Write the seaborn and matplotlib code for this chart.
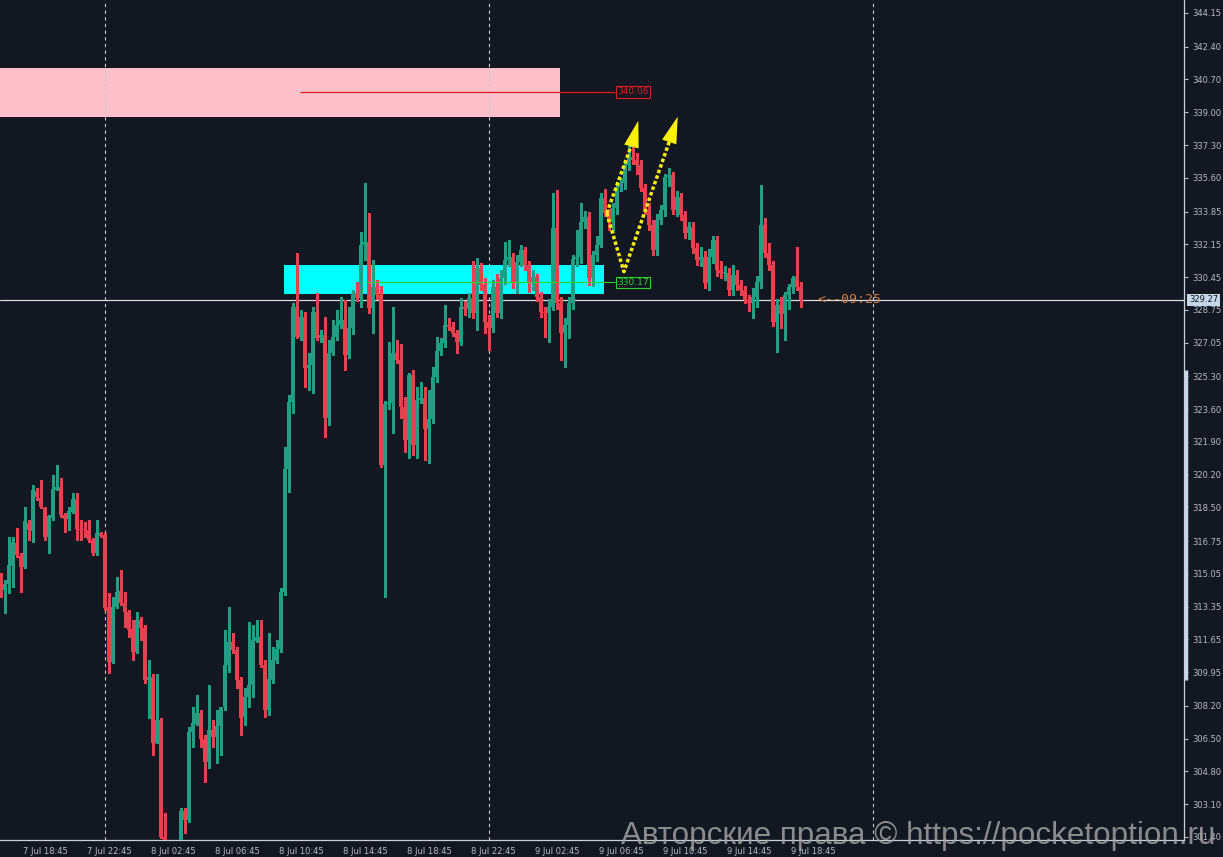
#!/usr/bin/env python3

import numpy as np
import pandas as pd
import seaborn as sns
import matplotlib.pyplot as plt
import matplotlib.transforms as mtransforms
from matplotlib.patches import Rectangle

# 15 minute candles, 7 Jul 17:30 -> 9 Jul 19:30
start = '2025-07-07 17:30'

opens = [
    314.56, 314.22, 314.53, 315.46, 316.64, 315.98, 315.43, 317.68, 317.30, 319.37,
    318.97, 318.45, 316.95, 317.94, 319.41, 319.54, 318.09, 317.88, 318.28, 318.92,
    317.40, 317.38, 317.33, 316.81, 316.12, 317.16, 317.07, 313.32, 310.50, 313.35,
    314.18, 313.53, 313.09, 312.18, 311.02, 312.66, 312.23, 309.55, 309.72, 306.30,
    307.47, 301.38, 301.10, 300.60, 300.90, 301.00, 302.77, 302.28, 306.86, 307.26,
    307.82, 306.47, 305.31, 306.95, 306.57, 307.16, 308.16, 310.32, 311.53, 311.10,
    309.55, 307.61, 308.68, 309.29, 311.59, 311.79, 310.32, 307.99, 309.55, 310.55,
    311.14, 314.13, 320.47, 323.99, 328.91, 327.36, 328.39, 325.71, 325.89, 328.65,
    327.27, 327.44, 323.12, 326.53, 327.36, 327.96, 328.22, 326.41, 327.79, 329.60,
    329.35, 332.11, 332.29, 328.83, 329.95, 329.52, 320.70, 323.86, 323.90, 326.49,
    326.15, 323.73, 322.00, 325.37, 321.74, 324.07, 324.16, 322.55, 323.07, 325.28,
    326.63, 327.01, 327.96, 327.88, 327.53, 327.10, 328.91, 328.78, 329.35, 328.57,
    330.90, 330.04, 328.14, 327.79, 329.95, 328.60, 330.38, 331.33, 331.47, 330.21,
    331.25, 331.85, 331.07, 330.12, 330.44, 329.43, 328.65, 328.60, 328.91, 332.98,
    329.09, 327.56, 327.96, 329.09, 331.37, 331.47, 333.32, 333.58, 330.38, 331.59,
    332.11, 334.53, 333.76, 333.32, 334.02, 335.14, 335.31, 336.26, 336.70, 336.52,
    336.26, 335.05, 333.93, 333.15, 331.85, 333.41, 333.93, 335.66, 335.74, 333.93,
    334.62, 333.67, 332.72, 333.06, 331.94, 331.33, 331.51, 330.12, 331.51, 332.37,
    330.82, 330.64, 330.68, 329.78, 330.56, 330.04, 329.78, 329.26, 329.09, 329.43,
    330.21, 333.15, 331.68, 331.08, 328.14, 329.00, 328.53, 329.52, 329.95, 330.47,
    329.95,
]
highs = [
    315.08, 314.74, 316.98, 316.98, 317.42, 316.12, 318.54, 317.85, 319.67, 319.49,
    319.92, 318.54, 318.11, 320.18, 320.70, 320.01, 318.20, 318.54, 319.23, 319.23,
    317.85, 317.76, 317.85, 316.90, 317.85, 317.24, 317.16, 314.04, 313.87, 314.91,
    315.26, 314.13, 313.18, 312.66, 313.09, 312.83, 312.40, 310.58, 309.86, 309.86,
    307.56, 302.63, 301.15, 301.10, 301.15, 302.89, 302.89, 307.12, 308.16, 308.77,
    307.99, 306.70, 309.29, 307.47, 307.99, 308.16, 312.14, 313.35, 311.97, 311.27,
    309.72, 309.11, 312.57, 312.40, 312.66, 312.66, 310.58, 311.97, 311.27, 311.62,
    314.30, 321.65, 324.33, 329.09, 331.68, 328.74, 328.65, 326.50, 328.91, 329.60,
    327.70, 328.39, 327.19, 328.22, 328.74, 329.43, 329.26, 328.91, 329.78, 330.20,
    332.80, 335.31, 333.76, 331.33, 330.30, 330.00, 324.00, 327.10, 328.91, 327.19,
    327.00, 324.24, 325.46, 325.63, 324.76, 325.00, 324.76, 324.59, 325.80, 327.36,
    327.30, 329.00, 328.30, 328.10, 327.70, 329.35, 329.20, 329.60, 331.30, 331.42,
    331.20, 330.40, 328.50, 330.30, 330.60, 330.80, 332.29, 332.37, 331.70, 331.60,
    332.11, 332.00, 331.30, 330.80, 330.60, 329.70, 328.90, 329.30, 334.79, 334.97,
    329.40, 328.30, 329.40, 331.60, 332.89, 334.27, 333.90, 333.80, 331.80, 332.60,
    334.80, 335.00, 334.00, 334.30, 335.40, 335.60, 336.40, 337.30, 337.30, 336.90,
    336.50, 335.30, 334.30, 333.40, 333.70, 334.20, 335.80, 336.11, 335.90, 334.90,
    334.80, 333.90, 333.30, 333.30, 332.20, 332.00, 331.80, 331.90, 332.60, 332.60,
    331.30, 331.00, 330.90, 331.10, 330.80, 330.30, 330.00, 329.50, 329.90, 330.50,
    335.23, 333.50, 332.20, 331.30, 329.30, 329.40, 329.70, 330.10, 330.50, 332.03,
    330.20,
]
lows = [
    313.87, 313.01, 314.04, 314.39, 315.95, 314.13, 315.34, 316.81, 316.73, 318.89,
    318.45, 316.81, 316.12, 317.85, 319.41, 318.02, 317.24, 317.33, 318.20, 316.81,
    316.81, 316.98, 316.73, 316.03, 316.03, 316.98, 313.18, 309.89, 310.41, 313.27,
    313.44, 312.32, 311.80, 310.58, 310.93, 311.62, 309.40, 307.56, 305.65, 306.26,
    301.33, 300.90, 300.40, 300.40, 300.70, 300.80, 301.59, 302.20, 306.09, 307.21,
    306.09, 304.27, 304.96, 306.09, 305.22, 305.65, 307.99, 309.98, 310.93, 309.11,
    306.70, 307.21, 308.16, 308.68, 311.53, 310.24, 307.64, 307.73, 309.37, 310.41,
    311.00, 313.96, 319.32, 323.38, 327.30, 327.20, 324.76, 324.60, 324.42, 327.18,
    327.10, 322.17, 322.78, 326.40, 327.20, 327.80, 325.63, 326.23, 327.50, 329.20,
    328.90, 331.33, 328.60, 327.53, 329.30, 320.61, 313.87, 323.60, 322.34, 326.00,
    323.12, 321.39, 321.05, 321.22, 321.05, 323.90, 320.96, 320.79, 322.90, 325.00,
    326.40, 326.80, 327.70, 327.40, 326.50, 326.90, 328.50, 328.40, 328.30, 327.70,
    329.80, 327.53, 326.66, 327.60, 328.40, 328.30, 330.10, 331.00, 329.90, 329.60,
    331.00, 330.80, 329.70, 329.80, 329.20, 328.39, 327.36, 327.10, 328.74, 328.80,
    326.15, 325.80, 327.30, 328.80, 331.00, 331.20, 333.00, 330.04, 330.00, 331.30,
    332.00, 333.60, 332.90, 332.80, 333.70, 334.90, 335.00, 336.00, 336.30, 335.80,
    334.90, 333.70, 332.90, 331.60, 331.60, 333.20, 333.60, 335.20, 333.70, 333.60,
    333.40, 332.50, 332.40, 331.70, 331.10, 331.00, 329.90, 329.80, 331.20, 330.50,
    330.40, 330.30, 329.50, 329.50, 329.80, 329.50, 329.10, 328.70, 328.30, 328.90,
    329.90, 331.50, 330.80, 327.90, 326.58, 327.80, 327.20, 328.80, 329.60, 329.80,
    328.90,
]
closes = [
    314.25, 314.53, 315.51, 316.73, 316.03, 315.39, 317.80, 317.33, 319.41, 319.03,
    318.51, 316.98, 318.06, 319.44, 319.58, 318.11, 317.88, 318.33, 318.92, 317.37,
    317.33, 317.33, 316.81, 316.12, 317.16, 317.02, 313.27, 310.50, 313.35, 314.13,
    313.53, 313.09, 312.14, 311.02, 312.66, 312.23, 309.55, 309.68, 306.30, 307.47,
    301.38, 301.10, 300.60, 300.90, 301.00, 302.77, 302.28, 306.86, 307.30, 307.85,
    306.47, 305.31, 306.95, 306.57, 307.16, 308.16, 310.32, 311.53, 311.10, 309.55,
    307.56, 308.68, 309.29, 311.62, 311.79, 310.32, 307.99, 309.58, 310.58, 311.14,
    314.13, 320.47, 323.99, 328.91, 327.36, 328.39, 325.71, 325.89, 328.65, 327.27,
    327.44, 323.12, 326.53, 327.36, 327.96, 328.22, 326.41, 327.79, 329.60, 329.35,
    332.11, 332.29, 328.83, 329.95, 329.52, 320.70, 323.86, 323.90, 326.49, 326.15,
    323.73, 322.00, 325.37, 321.74, 324.07, 324.16, 322.55, 323.07, 325.28, 326.63,
    327.01, 327.96, 327.88, 327.53, 327.10, 328.91, 328.78, 329.35, 328.57, 330.90,
    330.04, 328.14, 327.79, 329.95, 328.60, 330.38, 331.33, 331.47, 330.21, 331.25,
    331.85, 331.07, 330.12, 330.44, 329.43, 328.65, 328.60, 328.91, 332.98, 329.09,
    327.56, 327.96, 329.09, 331.37, 331.47, 333.32, 333.58, 330.38, 331.59, 332.11,
    334.53, 333.76, 333.32, 334.02, 335.14, 335.31, 336.26, 336.70, 336.52, 336.26,
    335.05, 333.93, 333.15, 331.85, 333.41, 333.93, 335.66, 335.74, 333.93, 334.62,
    333.67, 332.72, 333.06, 331.94, 331.33, 331.51, 330.12, 331.51, 332.37, 330.82,
    330.64, 330.68, 329.78, 330.56, 330.04, 329.78, 329.26, 329.09, 329.43, 330.21,
    333.15, 331.68, 331.08, 328.14, 329.00, 328.53, 329.52, 329.95, 330.38, 329.95,
    329.27,
]

price_ticks = [344.15, 342.40, 340.70, 339.00, 337.30, 335.60, 333.85, 332.15, 330.45,
               328.75, 327.05, 325.30, 323.60, 321.90, 320.20, 318.50, 316.75, 315.05,
               313.35, 311.65, 309.95, 308.20, 306.50, 304.80, 303.10, 301.40]

# zones and levels drawn by the user (x in candle index)
supply_zone = (338.75, 341.30)
supply_span = (-1.0, 139.8)
supply_level = 340.06
supply_line_span = (74.8, 153.6)
demand_zone = (329.57, 331.08)
demand_span = (70.8, 150.8)
demand_level = 330.17
demand_line_span = (91.0, 153.6)
last_price = 329.27
timer_text = '<--09:25'
scroll_range = (309.55, 325.63)

arrow_a = [(151.5, 333.76), (158.0, 337.47)]
arrow_a_tip = (159.4, 338.56)
arrow_b = [(151.5, 333.76), (155.8, 330.73), (167.3, 337.56)]
arrow_b_tip = (169.25, 338.77)

watermark = 'Авторские права © https://pocketoption.ru'

BG = '#131722'
TXT = '#b4bcc8'
UP = '#229e84'
DOWN = '#e8404e'
RED = '#e01c1c'
GREEN = '#2bd42b'

df = pd.DataFrame({'open': opens, 'high': highs, 'low': lows, 'close': closes},
                  index=pd.date_range(start, periods=len(opens), freq='15min'))
df['x'] = np.arange(len(df))
df['color'] = np.where(df['close'] >= df['open'], UP, DOWN)
t0 = df.index[0]


def idx(ts):
    return (pd.Timestamp(ts) - t0) / pd.Timedelta('15min')


sns.set_theme(style='dark', rc={'axes.facecolor': BG, 'figure.facecolor': BG})
plt.rcParams['font.family'] = ['DejaVu Sans']

fig = plt.figure(figsize=(12.23, 8.57), dpi=100)
ax = fig.add_axes([0, 17 / 857, 1184 / 1223, 840 / 857])
ax.set_facecolor(BG)

# zones
ax.add_patch(Rectangle((supply_span[0], supply_zone[0]), supply_span[1] - supply_span[0],
                       supply_zone[1] - supply_zone[0], fc='#ffc0cb', ec='none', zorder=1))
ax.add_patch(Rectangle((demand_span[0], demand_zone[0]), demand_span[1] - demand_span[0],
                       demand_zone[1] - demand_zone[0], fc='#00ffff', ec='none', zorder=1))

# day separators
for d in ['2025-07-08', '2025-07-09', '2025-07-10']:
    ax.axvline(idx(d), color='#c8c8c8', lw=0.8, ls=(0, (3, 3)), zorder=1)

# price line
ax.axhline(last_price, color='#dcdcdc', lw=0.9, zorder=2)

# candles
ax.vlines(df['x'], df['low'], df['high'], colors=df['color'], lw=0.75, zorder=3,
          antialiased=False)
body = (df['close'] - df['open']).abs().clip(lower=0.05)
ax.bar(df['x'], body, bottom=df[['open', 'close']].min(axis=1), width=0.85,
       color=df['color'], lw=0, zorder=4, antialiased=False)

# levels with labels
ax.hlines(supply_level, *supply_line_span, color=RED, lw=0.9, zorder=5)
ax.text(supply_line_span[1] + 0.6, supply_level, f'{supply_level:.2f}', ha='left', va='center',
        fontsize=6.5, color=RED, zorder=6,
        bbox=dict(boxstyle='square,pad=0.15', fc=BG, ec=RED, lw=0.8))
ax.hlines(demand_level, *demand_line_span, color=GREEN, lw=0.8, zorder=5)
ax.text(demand_line_span[1] + 0.6, demand_level, f'{demand_level:.2f}', ha='left', va='center',
        fontsize=6.5, color=GREEN, zorder=6,
        bbox=dict(boxstyle='square,pad=0.15', fc=BG, ec=GREEN, lw=0.8))

# yellow dotted arrows
YEL = '#fff200'
for path, tip in [(arrow_a, arrow_a_tip), (arrow_b, arrow_b_tip)]:
    xs, ys = zip(*path)
    ax.plot(xs, ys, color=YEL, lw=2.5, ls=(0, (1, 0.7)), zorder=7)
    ax.annotate('', xy=tip, xytext=path[-1],
                arrowprops=dict(arrowstyle='-|>,head_length=1.6,head_width=0.45',
                                color=YEL, lw=0, shrinkA=0, shrinkB=0), zorder=7)

# countdown
ax.text(idx('2025-07-09 20:33'), last_price, timer_text, ha='left', va='center',
        fontsize=9.5, color='#d67c3c', family='DejaVu Sans Mono', zorder=6)

ax.set_xlim(-0.175, 295.825)
ax.set_ylim(301.244, 344.824)

# axes
for s in ['top', 'left']:
    ax.spines[s].set_visible(False)
for s in ['right', 'bottom']:
    ax.spines[s].set_visible(True)
    ax.spines[s].set_color('#c8d0d8')
    ax.spines[s].set_linewidth(0.9)

ax.yaxis.tick_right()
ax.set_yticks(price_ticks)
ax.set_yticklabels([f'{v:.2f}' for v in price_ticks])
ax.tick_params(axis='y', colors=TXT, labelsize=6, length=3, width=0.8, pad=3, direction='out')

tick_pos = [i for i, t in enumerate(df.index) if t.minute == 45 and t.hour % 4 == 2]
tick_lab = [f'{t.day} {t:%b %H:%M}' for t in df.index[tick_pos]]
ax.set_xticks(tick_pos)
ax.set_xticklabels(tick_lab, ha='left')
ax.tick_params(axis='x', colors=TXT, labelsize=6, length=3, width=0.8, pad=2, direction='out')
shift = mtransforms.ScaledTranslation(2 / 100, 0, fig.dpi_scale_trans)
for lab in ax.get_xticklabels():
    lab.set_transform(lab.get_transform() + shift)

ax.grid(False)

# current price tag and scroll bar on the price scale
ax.text(1.0042, last_price, f'{last_price:.2f}', transform=ax.get_yaxis_transform(),
        ha='left', va='center', fontsize=6, color=BG, zorder=10, clip_on=False,
        bbox=dict(boxstyle='square,pad=0.2', fc='#c5d6e6', ec='none'))
ax.plot([1.0013, 1.0013], scroll_range, transform=ax.get_yaxis_transform(),
        color='#c5d6e6', lw=2.5, clip_on=False, solid_capstyle='butt', zorder=10)

fig.text(0.9935, 1 - 836 / 857, watermark, ha='right', va='center', fontsize=22.6,
         color='#a8a8a8', alpha=0.8, family=['Liberation Sans', 'DejaVu Sans'], zorder=20)

fig.savefig('out.png', dpi=100, facecolor=BG)
